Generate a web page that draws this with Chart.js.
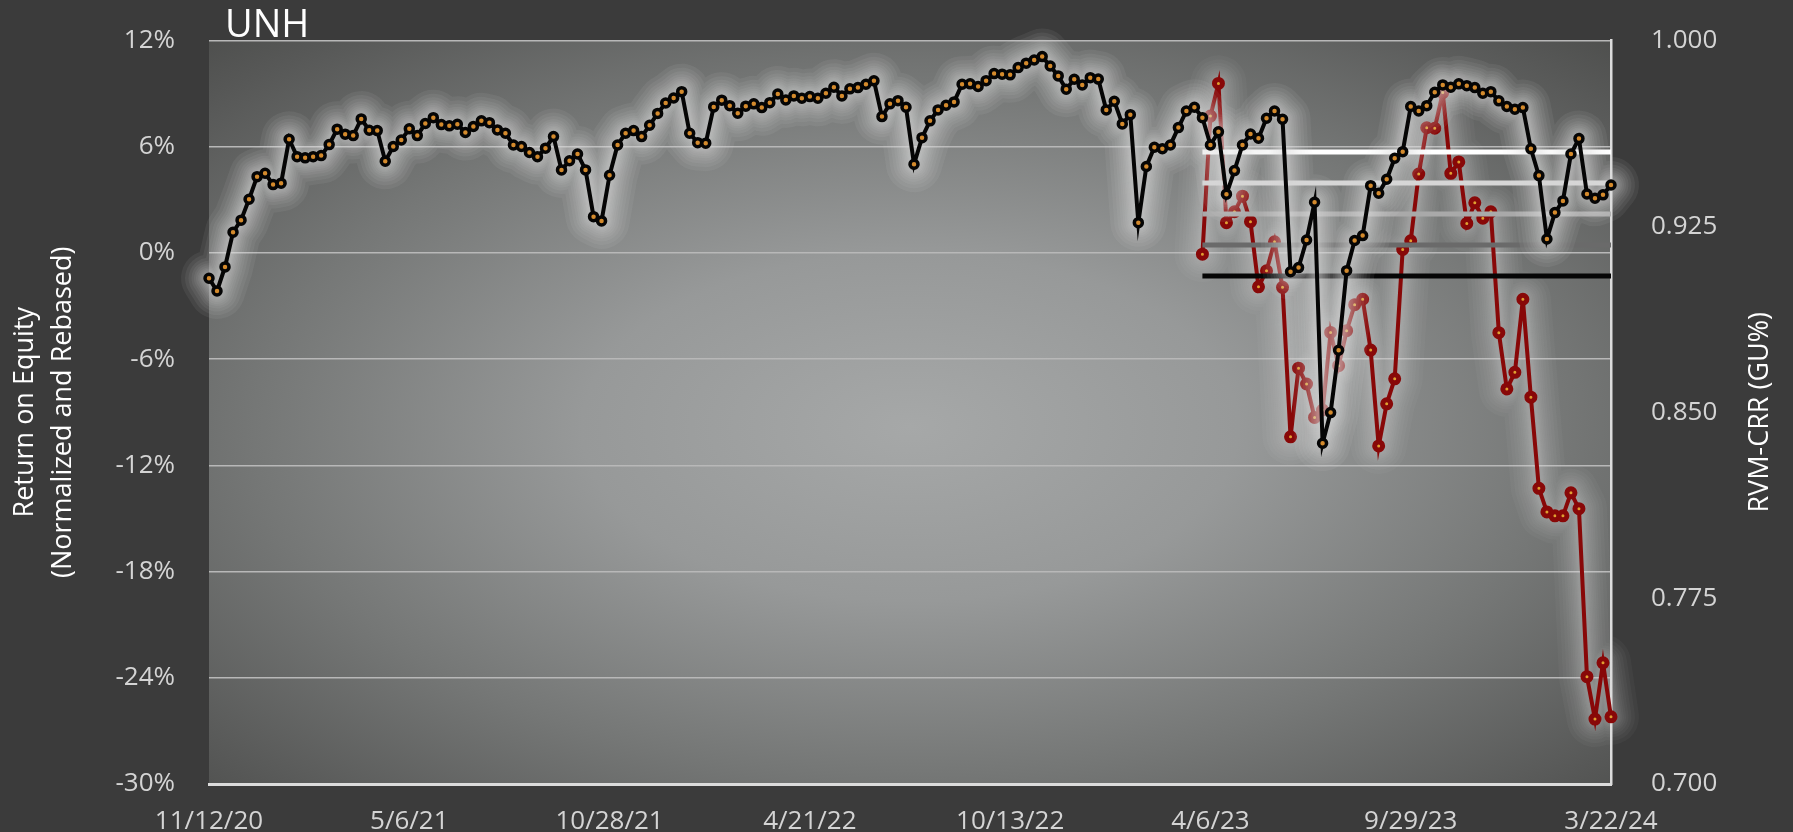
<!DOCTYPE html>
<html>
<head>
<meta charset="utf-8">
<title>UNH</title>
<script src="https://cdn.jsdelivr.net/npm/chart.js@4.4.1/dist/chart.umd.min.js"></script>
<style>
  html, body { margin: 0; padding: 0; background: #3b3b3b; }
  #wrap { width: 1793px; height: 832px; }
</style>
</head>
<body>
<div id="wrap"><canvas id="roeChart" width="1793" height="832"></canvas></div>
<script>
const chartTitle = 'UNH';
const leftTitle = ['Return on Equity', '(Normalized and Rebased)'];
const rightTitle = 'RVM-CRR (GU%)';

// x ticks, one every 25 weeks
const tickLabels = ['11/12/20', '5/6/21', '10/28/21', '4/21/22', '10/13/22', '4/6/23', '9/29/23', '3/22/24'];
const tickEvery = 25;
const leftTicks = [-30, -24, -18, -12, -6, 0, 6, 12];
const rightTicks = [0.7, 0.775, 0.85, 0.925, 1.0];

// weekly return on equity, %
const roe = [
  -1.43, -2.15, -0.79, 1.17, 1.85, 3.03, 4.31, 4.50, 3.86, 3.94,
  6.42, 5.44, 5.37, 5.44, 5.50, 6.12, 6.99, 6.71, 6.63, 7.57,
  6.93, 6.91, 5.18, 6.01, 6.38, 7.01, 6.63, 7.31, 7.64, 7.25,
  7.18, 7.27, 6.80, 7.14, 7.46, 7.36, 6.95, 6.76, 6.10, 6.01,
  5.67, 5.44, 5.92, 6.57, 4.69, 5.21, 5.59, 4.69, 2.05, 1.81,
  4.39, 6.10, 6.76, 6.91, 6.57, 7.21, 7.88, 8.47, 8.75, 9.11,
  6.76, 6.23, 6.20, 8.25, 8.63, 8.32, 7.89, 8.29, 8.42, 8.21,
  8.49, 8.98, 8.64, 8.87, 8.74, 8.83, 8.74, 9.02, 9.36, 8.87,
  9.27, 9.34, 9.53, 9.72, 7.70, 8.42, 8.60, 8.23, 5.01, 6.51,
  7.46, 8.08, 8.34, 8.53, 9.53, 9.55, 9.40, 9.73, 10.13, 10.10,
  10.06, 10.47, 10.72, 10.90, 11.09, 10.56, 10.00, 9.25, 9.81, 9.49,
  9.90, 9.82, 8.08, 8.57, 7.29, 7.81, 1.71, 4.88, 5.97, 5.89,
  6.10, 7.08, 8.02, 8.23, 7.64, 6.10, 6.84, 3.32, 4.65, 6.10,
  6.72, 6.48, 7.61, 8.02, 7.55, -1.06, -0.83, 0.73, 2.86, -10.75,
  -9.02, -5.50, -1.00, 0.70, 0.98, 3.80, 3.37, 4.16, 5.35, 5.72,
  8.27, 8.02, 8.32, 9.08, 9.49, 9.36, 9.55, 9.45, 9.34, 9.02,
  9.11, 8.59, 8.27, 8.12, 8.21, 5.88, 4.37, 0.79, 2.28, 2.94,
  5.59, 6.46, 3.33, 3.09, 3.28, 3.84
];

// RVM-CRR, starts at week 124
const rvmStart = 124;
const rvm = [
  0.9138, 0.9695, 0.9827, 0.9265, 0.9309, 0.9372, 0.9269, 0.9006, 0.9071, 0.9188,
  0.9004, 0.8401, 0.8678, 0.8614, 0.8479, 0.8509, 0.8822, 0.8688, 0.8829, 0.8934,
  0.8956, 0.8751, 0.8364, 0.8534, 0.8635, 0.9157, 0.9192, 0.9461, 0.9648, 0.9646,
  0.9790, 0.9464, 0.9510, 0.9262, 0.9345, 0.9283, 0.9309, 0.8821, 0.8594, 0.8661,
  0.8956, 0.8561, 0.8193, 0.8098, 0.8082, 0.8082, 0.8175, 0.8111, 0.7433, 0.7262,
  0.7489, 0.7271
];

// reference levels on the right axis
const bandLevels = [0.955, 0.9425, 0.93, 0.9175, 0.905];
const bandColors = ['#ffffff', '#d6d6d6', '#a9a9a9', '#6a6a6a', '#060606'];

const FONT = '"Open Sans", "Noto Sans", sans-serif';

// category labels: weekly dates from 11/12/20
const weeks = roe.map((_, i) => {
  const d = new Date(2020, 10, 12 + i * 7);
  return `${d.getMonth() + 1}/${d.getDate()}/${String(d.getFullYear()).slice(2)}`;
});

const pad = (arr, start) => weeks.map((_, i) => (i < start ? null : arr[i - start]));

/**
 * Plot area background: grey radial shading
 */
const plotBg = {
  id: 'plotBg',
  beforeDraw(chart) {
    const { ctx, chartArea: a } = chart;
    ctx.save();
    ctx.fillStyle = '#3b3b3b';
    ctx.fillRect(0, 0, chart.width, chart.height);
    const sx = a.width / a.height;
    ctx.translate(a.left + a.width * 0.5, a.top + a.height * 0.52);
    ctx.scale(sx, 1);
    const g = ctx.createRadialGradient(0, 0, 0, 0, 0, a.height * 0.78);
    g.addColorStop(0, '#a6a8a8');
    g.addColorStop(0.3, '#979999');
    g.addColorStop(0.6, '#757776');
    g.addColorStop(0.85, '#575857');
    g.addColorStop(1, '#464745');
    ctx.fillStyle = g;
    ctx.fillRect(-a.height / 2, -a.height * 0.52, a.height, a.height);
    ctx.restore();
  },
};

/**
 * Soft white glow under a dataset's line (stacked wide strokes)
 */
const glowWidths = [56, 48, 41, 35, 30, 26, 22, 19, 16, 13, 11, 9];
const glow = {
  id: 'glow',
  beforeDatasetDraw(chart, args) {
    const ds = chart.data.datasets[args.index];
    if (!ds.glowAlpha) return;
    const pts = args.meta.data.filter((p) => !p.skip);
    const ctx = chart.ctx;
    ctx.save();
    ctx.lineJoin = 'round';
    ctx.lineCap = 'round';
    ctx.strokeStyle = `rgba(232,232,232,${ds.glowAlpha})`;
    glowWidths.forEach((w) => {
      ctx.lineWidth = w;
      ctx.beginPath();
      pts.forEach((p, i) => (i ? ctx.lineTo(p.x, p.y) : ctx.moveTo(p.x, p.y)));
      ctx.stroke();
    });
    ctx.restore();
  },
};

/**
 * Title and axis titles
 */
const titles = {
  id: 'titles',
  afterDraw(chart) {
    const { ctx, chartArea: a } = chart;
    const midY = (a.top + a.bottom) / 2;
    ctx.save();
    ctx.fillStyle = '#ffffff';
    ctx.textAlign = 'left';
    ctx.textBaseline = 'alphabetic';
    ctx.font = `38px ${FONT}`;
    ctx.fillText(chartTitle, a.left + 16, 37);

    ctx.font = `27px ${FONT}`;
    ctx.textAlign = 'center';
    ctx.textBaseline = 'middle';
    ctx.save();
    ctx.translate(25, midY);
    ctx.rotate(-Math.PI / 2);
    ctx.fillText(leftTitle[0], 0, 0);
    ctx.fillText(leftTitle[1], 0, 38);
    ctx.restore();

    ctx.save();
    ctx.translate(1760, midY);
    ctx.rotate(-Math.PI / 2);
    ctx.fillText(rightTitle, 0, 0);
    ctx.restore();
    ctx.restore();
  },
};

// keep the tick padding from eating vertical space
const noVPad = (width) => (s) => {
  s.width = width;
  s.paddingTop = 0;
  s.paddingBottom = 0;
};

const datasets = [
  {
    label: 'ROE',
    data: roe,
    yAxisID: 'y',
    order: 0,
    borderColor: '#050505',
    borderWidth: 4,
    pointRadius: 4,
    pointBorderWidth: 3.5,
    pointBorderColor: '#050505',
    pointBackgroundColor: '#d48a2c',
    glowAlpha: 0.07,
    tension: 0,
    clip: false,
  },
  ...bandLevels.map((lvl, k) => ({
    label: 'level ' + lvl,
    data: pad(rvm.map(() => lvl), rvmStart),
    yAxisID: 'y1',
    order: 1,
    borderColor: bandColors[k],
    borderWidth: 5,
    pointRadius: 0,
    clip: false,
  })),
  {
    label: 'RVM-CRR',
    data: pad(rvm, rvmStart),
    yAxisID: 'y1',
    order: 2,
    borderColor: '#880808',
    borderWidth: 4,
    pointRadius: 4,
    pointBorderWidth: 5,
    pointBorderColor: '#880808',
    pointBackgroundColor: '#e0a030',
    glowAlpha: 0.04,
    tension: 0,
    clip: false,
  },
];

new Chart(document.getElementById('roeChart'), {
  type: 'line',
  data: { labels: weeks, datasets },
  options: {
    responsive: false,
    devicePixelRatio: 1,
    animation: false,
    layout: { autoPadding: false, padding: { top: 40.5, left: 0, right: 0, bottom: 0 } },
    plugins: {
      legend: { display: false },
      tooltip: { enabled: false },
    },
    scales: {
      x: {
        grid: { display: false, drawTicks: false },
        border: { display: true, color: '#dcdcdc', width: 3 },
        ticks: {
          autoSkip: false,
          maxRotation: 0,
          color: '#d4d4d4',
          font: { family: FONT, size: 26 },
          padding: 22,
          callback: (v, i) => (i % tickEvery === 0 ? tickLabels[i / tickEvery] : null),
        },
        afterFit: (s) => { s.height = 48; },
      },
      y: {
        position: 'left',
        min: leftTicks[0],
        max: leftTicks[leftTicks.length - 1],
        afterBuildTicks: (s) => { s.ticks = leftTicks.map((v) => ({ value: v })); },
        grid: { color: '#b8b8b8', lineWidth: 1.5, drawTicks: false },
        border: { display: false },
        ticks: {
          color: '#d4d4d4',
          font: { family: FONT, size: 26 },
          padding: 34,
          callback: (v) => v + '%',
        },
        afterFit: noVPad(209),
      },
      y1: {
        position: 'right',
        min: rightTicks[0],
        max: rightTicks[rightTicks.length - 1],
        afterBuildTicks: (s) => { s.ticks = rightTicks.map((v) => ({ value: v })); },
        grid: { display: false, drawTicks: false },
        border: { display: true, color: '#dcdcdc', width: 2.5 },
        ticks: {
          color: '#d4d4d4',
          font: { family: FONT, size: 26 },
          padding: 40,
          callback: (v) => v.toFixed(3),
        },
        afterFit: noVPad(182),
      },
    },
  },
  plugins: [plotBg, glow, titles],
});
</script>
</body>
</html>
